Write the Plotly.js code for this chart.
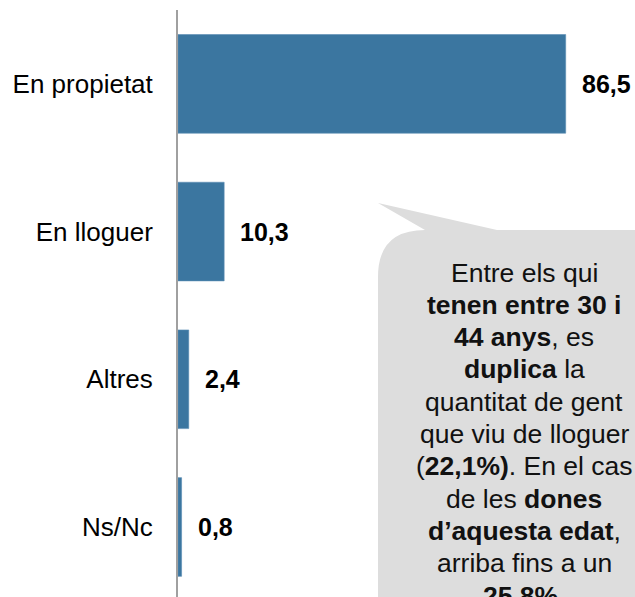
<!DOCTYPE html>
<html>
<head>
<meta charset="utf-8">
<script src="https://cdn.plot.ly/plotly-3.0.1.min.js"></script>
<style>html,body{margin:0;padding:0;background:#fff;}#chart{width:635px;height:597px;}</style>
</head>
<body>
<div id="chart"></div>
<script>
const categories = ["En propietat", "En lloguer", "Altres", "Ns/Nc"];
const values = [86.5, 10.3, 2.4, 0.8];
const valueLabels = ["86,5", "10,3", "2,4", "0,8"];
const calloutLines = [
  "Entre els qui",
  "<b>tenen entre 30 i</b>",
  "<b>44 anys</b>, es",
  "<b>duplica</b> la",
  "quantitat de gent",
  "que viu de lloguer",
  "(<b>22,1%)</b>. En el cas",
  "de les <b>dones</b>",
  "<b>d’aquesta edat</b>,",
  "arriba fins a un",
  "<b>25,8%.</b>"
];

const W = 635, H = 597, ML = 178, MT = 10, MR = 0, MB = 0;
const PW = W - ML - MR, PH = H - MT - MB;
const px = X => (X - ML) / PW;
const py = Y => (H - MB - Y) / PH;
const P = (X, Y) => px(X).toFixed(5) + "," + py(Y).toFixed(5);

const FONT = "Liberation Sans, Arial, sans-serif";

const calloutPath =
  "M" + P(378, 203) +
  " L" + P(497, 230) +
  " L" + P(720, 230) +
  " L" + P(720, 680) +
  " L" + P(378, 680) +
  " L" + P(378, 277) +
  " Q" + P(378, 230) + " " + P(425, 230) +
  " Z";

const trace = {
  type: "bar",
  orientation: "h",
  y: categories,
  x: values,
  width: 0.668,
  marker: {color: "#3b76a0", line: {color: "#5a8db3", width: 0.6}},
  hoverinfo: "none"
};

const valueAnnotations = categories.map((c, i) => ({
  x: values[i], y: c, xref: "x", yref: "y",
  text: "<b>" + valueLabels[i] + "</b>",
  showarrow: false, xanchor: "left", yanchor: "middle", xshift: 14,
  font: {family: FONT, size: 25, color: "#000"}
}));

const calloutAnnotations = calloutLines.map((t, i) => ({
  xref: "paper", yref: "paper",
  x: px(524), y: py(272.5 + i * 32.3),
  xanchor: "center", yanchor: "middle",
  align: "center",
  showarrow: false,
  text: t,
  font: {family: FONT, size: 26.5, color: "#111"}
}));

const layout = {
  width: W, height: H,
  margin: {l: ML, r: MR, t: MT, b: MB, pad: 0},
  paper_bgcolor: "#fff", plot_bgcolor: "#fff",
  showlegend: false,
  font: {family: FONT, size: 25, color: "#000"},
  xaxis: {
    range: [0, PW / 4.482],
    visible: false, showgrid: false, zeroline: false, fixedrange: true
  },
  yaxis: {
    type: "category",
    categoryorder: "array", categoryarray: categories,
    range: [3.474, -0.5],
    showline: true, linecolor: "#a0a0a0", linewidth: 2,
    showgrid: false, zeroline: false,
    ticks: "", ticklabelstandoff: 18,
    tickfont: {family: FONT, size: 26, color: "#000"},
    fixedrange: true
  },
  shapes: [{
    type: "path", xref: "paper", yref: "paper",
    path: calloutPath,
    fillcolor: "#dddddd", line: {width: 0}, layer: "above"
  }],
  annotations: valueAnnotations.concat(calloutAnnotations)
};

Plotly.newPlot("chart", [trace], layout, {displayModeBar: false, staticPlot: true});
</script>
</body>
</html>
